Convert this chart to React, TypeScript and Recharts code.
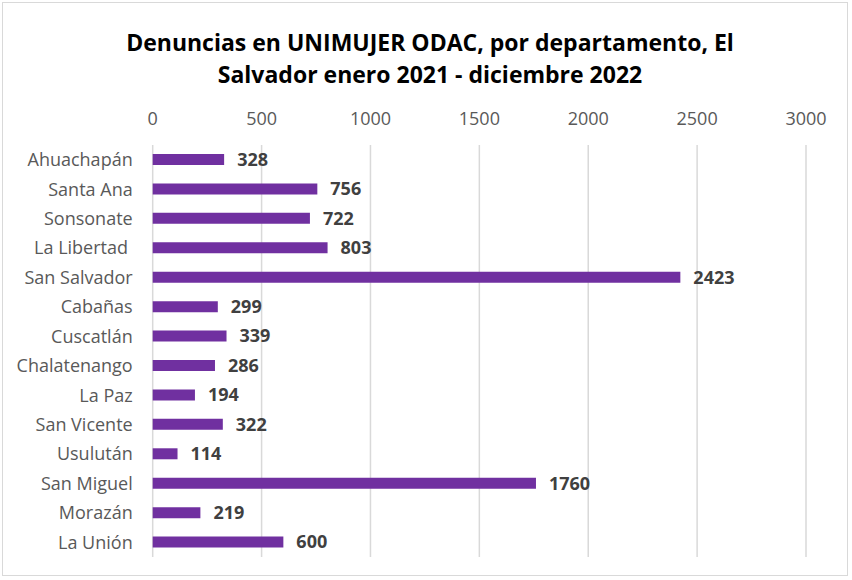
import React from "react";
import { BarChart, Bar, XAxis, YAxis, CartesianGrid, LabelList } from "recharts";

const departamentos = [
  "Ahuachapán",
  "Santa Ana",
  "Sonsonate",
  "La Libertad\u00a0",
  "San Salvador",
  "Cabañas",
  "Cuscatlán",
  "Chalatenango",
  "La Paz",
  "San Vicente",
  "Usulután",
  "San Miguel",
  "Morazán",
  "La Unión",
];
const denuncias = [328, 756, 722, 803, 2423, 299, 339, 286, 194, 322, 114, 1760, 219, 600];
const xTicks = [0, 500, 1000, 1500, 2000, 2500, 3000];
const titleLines = ["Denuncias en UNIMUJER ODAC, por departamento, El", "Salvador enero 2021 - diciembre 2022"];

const data = departamentos.map((d, i) => ({ name: d, value: denuncias[i] }));

const FONT = "'Open Sans', 'Liberation Sans', sans-serif";

export default function App() {
  return (
    <div style={{ position: "absolute", left: 0, top: 0, width: 852, height: 580, background: "#fff", fontFamily: FONT }}>
      <div
        style={{
          position: "absolute",
          left: 2,
          top: 2,
          width: 846,
          height: 574,
          border: "1px solid #d9d9d9",
          boxSizing: "border-box",
        }}
      />
      <div
        style={{
          position: "absolute",
          left: 0,
          top: 26,
          width: 860,
          textAlign: "center",
          fontWeight: 700,
          fontSize: 23,
          lineHeight: "32px",
          color: "#000",
        }}
      >
        {titleLines.map((t, i) => (
          <div key={i}>{t}</div>
        ))}
      </div>
      <div style={{ position: "absolute", left: 0, top: 0 }}>
        <BarChart
          width={852}
          height={580}
          data={data}
          layout="vertical"
          margin={{ top: 115, right: 46, bottom: 23, left: 0 }}
        >
          <CartesianGrid horizontal={false} vertical={true} stroke="#d9d9d9" strokeWidth={1.5} />
          <XAxis
            type="number"
            orientation="top"
            domain={[0, 3000]}
            ticks={xTicks}
            axisLine={false}
            tickLine={false}
            tickSize={0}
            tickMargin={20}
            height={30}
            tick={{ fill: "#595959", fontSize: 18, fontFamily: FONT }}
            interval={0}
          />
          <YAxis
            type="category"
            dataKey="name"
            width={152.7}
            axisLine={false}
            tickLine={false}
            tickSize={0}
            tickMargin={20}
            interval={0}
            tick={{ fill: "#595959", fontSize: 18, fontFamily: FONT }}
          />
          <Bar dataKey="value" fill="#7030a0" barSize={11} isAnimationActive={false}>
            <LabelList
              dataKey="value"
              position="right"
              offset={13}
              fill="#404040"
              style={{ fontWeight: 700, fontSize: 18, fontFamily: FONT }}
            />
          </Bar>
        </BarChart>
      </div>
    </div>
  );
}
